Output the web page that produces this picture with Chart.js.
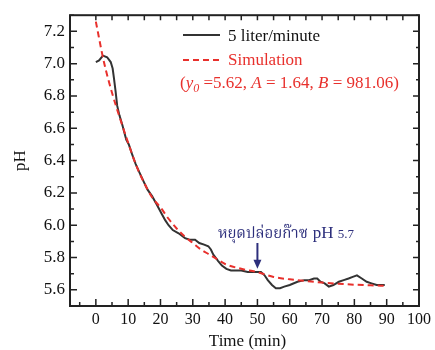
<!DOCTYPE html>
<html>
<head>
<meta charset="utf-8">
<script src="https://cdn.jsdelivr.net/npm/chart.js@4.4.1/dist/chart.umd.min.js"></script>
<style>
  body { margin: 0; background: #fff; }
  #wrap { width: 435px; height: 350px; }
</style>
</head>
<body>
<div id="wrap"><canvas id="graficoPh" width="435" height="350"></canvas></div>
<script>
// measured pH (5 liter/minute)
const timeMeasured = [0, 1, 2.2, 3.5, 4.6, 5.2, 5.6, 6.1, 6.6, 7.3, 8.2, 9.4, 10.2, 11.2, 12.3, 13.4, 14.8, 16.0, 17.4, 18.8, 20.4, 21.5, 22.5, 23.8, 25.6, 27.6, 29.0, 30.7, 32.0, 33.5, 34.8, 35.6, 36.3, 37.8, 39.0, 40.4, 41.8, 43.5, 45.0, 47.0, 49.0, 51.1, 52.2, 53.2, 54.5, 55.7, 57.0, 58.3, 60.0, 62.4, 64.5, 66.0, 67.5, 68.5, 69.5, 70.8, 72.1, 73.5, 75.2, 76.7, 78.2, 79.5, 80.8, 82.3, 83.8, 85.3, 86.9, 88.0, 89.4];
const phMeasured   = [7.01, 7.02, 7.05, 7.04, 7.01, 6.97, 6.91, 6.83, 6.74, 6.68, 6.62, 6.53, 6.50, 6.44, 6.38, 6.33, 6.27, 6.22, 6.18, 6.13, 6.07, 6.03, 6.00, 5.97, 5.95, 5.92, 5.91, 5.91, 5.89, 5.88, 5.87, 5.85, 5.82, 5.78, 5.75, 5.73, 5.72, 5.72, 5.72, 5.71, 5.71, 5.71, 5.69, 5.66, 5.63, 5.61, 5.61, 5.62, 5.63, 5.65, 5.66, 5.66, 5.67, 5.67, 5.65, 5.64, 5.62, 5.63, 5.65, 5.66, 5.67, 5.68, 5.69, 5.67, 5.65, 5.64, 5.63, 5.63, 5.63];

// simulated curve
const timeSim = [0, 2.5, 5, 7.5, 10, 12.5, 15, 17.5, 20, 22.5, 25, 27.5, 30, 32.5, 35, 37.5, 40, 45, 50, 55, 60, 65, 70, 75, 80, 85, 90];
const phSim   = [7.26, 7.01, 6.82, 6.66, 6.51, 6.37, 6.26, 6.17, 6.11, 6.04, 5.98, 5.93, 5.89, 5.85, 5.82, 5.79, 5.76, 5.73, 5.71, 5.68, 5.665, 5.655, 5.645, 5.638, 5.632, 5.628, 5.625];

// tick labels
const xTicks = [0, 10, 20, 30, 40, 50, 60, 70, 80, 90, 100];
const yTicks = [5.6, 5.8, 6.0, 6.2, 6.4, 6.6, 6.8, 7.0, 7.2];

const serif = '"Liberation Serif", "Times New Roman", serif';
const vermelho = '#e8302c';
const azul = '#2d2f7c';

function pares(xs, ys) {
  return xs.map((x, i) => ({ x: x, y: ys[i] }));
}

// moldura, marcas internas, legenda, títulos e anotação
const moldura = {
  id: 'moldura',
  afterDraw(chart) {
    const c = chart.ctx;
    const a = chart.chartArea;
    const sx = chart.scales.x;
    const sy = chart.scales.y;
    c.save();
    c.strokeStyle = '#222';
    c.lineWidth = 2;
    c.strokeRect(a.left, a.top, a.right - a.left, a.bottom - a.top);

    c.lineWidth = 1.5;
    c.beginPath();
    // marcas eixo x (embaixo e em cima)
    for (let v = -5; v <= 95; v += 5) {
      const px = sx.getPixelForValue(v);
      const major = v % 10 === 0;
      c.moveTo(px, a.bottom);
      c.lineTo(px, a.bottom - (major ? 7 : 4));
      if (v >= 0) {
        c.moveTo(px, a.top);
        c.lineTo(px, a.top + 5);
      }
    }
    // marcas eixo y (esquerda e direita)
    for (let k = 56; k <= 73; k++) {
      const py = sy.getPixelForValue(k / 10);
      const major = k % 2 === 0;
      c.moveTo(a.left, py);
      c.lineTo(a.left + (major ? 7 : 4), py);
      c.moveTo(a.right, py);
      c.lineTo(a.right - (major ? 6 : 3), py);
    }
    c.stroke();

    // títulos dos eixos
    c.fillStyle = '#111';
    c.font = '17px ' + serif;
    c.textAlign = 'center';
    c.textBaseline = 'middle';
    c.fillText('Time (min)', (a.left + a.right) / 2 + 3, 342);
    c.save();
    c.translate(21, (a.top + a.bottom) / 2);
    c.rotate(-Math.PI / 2);
    c.fillText('pH', 0, 0);
    c.restore();

    // legenda
    const lx = 183, lx2 = 220, tx = 228;
    c.lineWidth = 2;
    c.strokeStyle = '#333';
    c.beginPath();
    c.moveTo(lx, 35); c.lineTo(lx2, 35);
    c.stroke();
    c.strokeStyle = vermelho;
    c.setLineDash([6, 4]);
    c.beginPath();
    c.moveTo(lx, 60); c.lineTo(lx2, 60);
    c.stroke();
    c.setLineDash([]);

    c.textAlign = 'left';
    c.textBaseline = 'alphabetic';
    c.font = '17px ' + serif;
    c.fillStyle = '#111';
    c.fillText('5 liter/minute', tx, 41);
    c.fillStyle = vermelho;
    c.fillText('Simulation', tx, 65);

    // linha da equação
    let x = 180;
    const by = 88;
    const partes = [
      ['(', false], ['y', true], ['0', 'sub'], [' =5.62, ', false], ['A', true], [' = 1.64, ', false], ['B', true], [' = 981.06)', false]
    ];
    partes.forEach(([txt, estilo]) => {
      if (estilo === 'sub') {
        c.font = 'italic 12px ' + serif;
        c.fillText(txt, x, by + 4);
      } else {
        c.font = (estilo ? 'italic ' : '') + '17px ' + serif;
        c.fillText(txt, x, by);
      }
      x += c.measureText(txt).width;
    });

    // anotação
    const ax = sx.getPixelForValue(50);
    c.fillStyle = azul;
    c.font = '15px "Noto Serif Thai", "Noto Sans Thai", "Noto Sans", ' + serif;
    let t = 'หยุดปล่อยก๊าซ';
    let px = 218;
    c.fillText(t, px, 238);
    px += c.measureText(t).width + 5;
    c.font = '17px ' + serif;
    c.fillText('pH', px, 238);
    px += c.measureText('pH ').width;
    c.font = '13px ' + serif;
    c.fillText('5.7', px, 238);

    const tip = sy.getPixelForValue(5.73);
    c.strokeStyle = azul;
    c.lineWidth = 2;
    c.beginPath();
    c.moveTo(ax, 243);
    c.lineTo(ax, tip - 4);
    c.stroke();
    c.beginPath();
    c.moveTo(ax - 4, tip - 9);
    c.lineTo(ax + 4, tip - 9);
    c.lineTo(ax, tip);
    c.closePath();
    c.fill();
    c.restore();
  }
};

const ctx = document.getElementById('graficoPh').getContext('2d');
const graficoPh = new Chart(ctx, {
  type: 'line',
  data: {
    datasets: [
      {
        label: 'Simulation',
        data: pares(timeSim, phSim),
        borderColor: vermelho,
        borderWidth: 2,
        borderDash: [6, 4],
        pointRadius: 0,
        cubicInterpolationMode: 'monotone',
        fill: false
      },
      {
        label: '5 liter/minute',
        data: pares(timeMeasured, phMeasured),
        borderColor: '#333',
        borderWidth: 2,
        pointRadius: 0,
        tension: 0,
        fill: false
      }
    ]
  },
  options: {
    responsive: false,
    devicePixelRatio: 1,
    animation: false,
    layout: {
      padding: { top: 12, right: 13, left: 0, bottom: 0 }
    },
    plugins: {
      legend: { display: false },
      tooltip: { enabled: false }
    },
    scales: {
      x: {
        type: 'linear',
        min: -8,
        max: 100,
        afterBuildTicks: (s) => { s.ticks = xTicks.map(v => ({ value: v })); },
        afterFit: (s) => { s.height = 44; },
        grid: { display: false, drawTicks: false },
        border: { display: false },
        ticks: {
          color: '#111',
          padding: 4,
          maxRotation: 0,
          autoSkip: false,
          font: { family: serif, size: 16 }
        }
      },
      y: {
        type: 'linear',
        min: 5.5,
        max: 7.3,
        afterBuildTicks: (s) => { s.ticks = yTicks.map(v => ({ value: v })); },
        afterFit: (s) => { s.width = 70; },
        grid: { display: false, drawTicks: false },
        border: { display: false },
        ticks: {
          color: '#111',
          padding: 5,
          autoSkip: false,
          font: { family: serif, size: 17 },
          callback: (v) => Number(v).toFixed(1)
        }
      }
    }
  },
  plugins: [moldura]
});
</script>
</body>
</html>
